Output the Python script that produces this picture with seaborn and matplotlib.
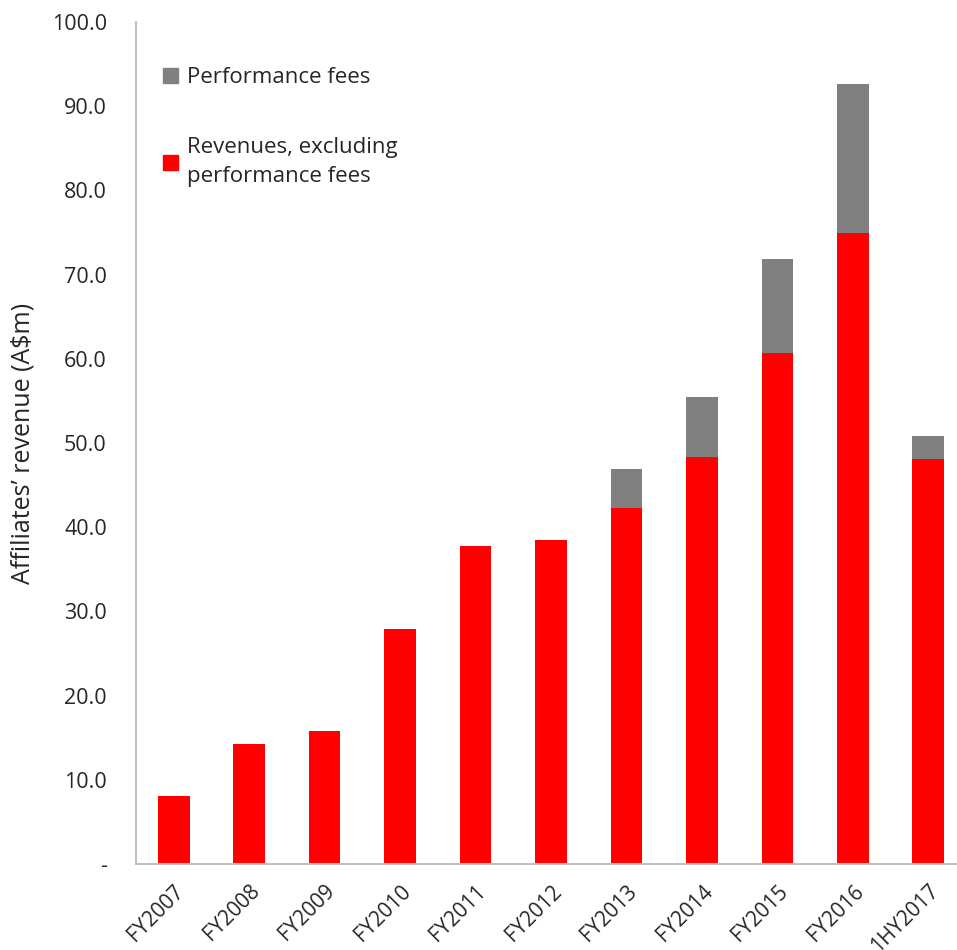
import numpy as np
import pandas as pd
import matplotlib
matplotlib.use("Agg")
import matplotlib.pyplot as plt
import seaborn as sns
from matplotlib.patches import Patch

# data (A$m)
years = ["FY2007", "FY2008", "FY2009", "FY2010", "FY2011", "FY2012",
         "FY2013", "FY2014", "FY2015", "FY2016", "1HY2017"]
revenue_ex_fees = [8.1, 14.3, 15.8, 27.9, 37.8, 38.5, 42.3, 48.3, 60.7, 74.9, 48.1]
perf_fees = [0, 0, 0, 0, 0, 0, 4.6, 7.2, 11.2, 17.7, 2.7]

df = pd.DataFrame({"year": years, "rev": revenue_ex_fees, "fees": perf_fees})

sns.set_style("white")
plt.rcParams["font.family"] = ["Open Sans", "DejaVu Sans"]

fig = plt.figure(figsize=(9.57, 9.5), dpi=100)
ax = fig.add_axes([136 / 957, 86 / 950, 1 - 136 / 957, 842 / 950])

sns.barplot(data=df, x="year", y="rev", color="#ff0000", width=0.42,
            saturation=1, linewidth=0, ax=ax)
sns.barplot(data=df, x="year", y="fees", color="#808080", width=0.42,
            saturation=1, linewidth=0, bottom=df["rev"], ax=ax)

ax.set_ylim(0, 100)
ax.set_xlim(-0.5, 10.38)
ax.set_yticks(np.arange(0, 101, 10))
ax.set_yticklabels(["-"] + [f"{v:.1f}" for v in range(10, 101, 10)], fontsize=15.5)
ax.set_xticks(range(len(years)))
ax.set_xticklabels(years, rotation=45, ha="right", rotation_mode="anchor", fontsize=15)
ax.tick_params(axis="y", length=0, pad=21)
ax.tick_params(axis="x", length=0, pad=12)
ax.set_xlabel("")
ax.set_ylabel("Affiliates’ revenue (A$m)", fontsize=18)
ax.yaxis.set_label_coords(-0.122, 0.5)

for s in ["top", "right"]:
    ax.spines[s].set_visible(False)
for s in ["left", "bottom"]:
    ax.spines[s].set_color("#c0c0c0")
    ax.spines[s].set_linewidth(1.5)

handles = [Patch(color="#808080", label="Performance fees"),
           Patch(color="#ff0000", label="Revenues, excluding\nperformance fees")]
leg = ax.legend(handles=handles, loc="upper left", bbox_to_anchor=(0.0, 0.978),
                frameon=False, fontsize=16, handlelength=0.7, handleheight=0.7,
                handletextpad=0.4, labelspacing=2.2, borderaxespad=0.8)
leg.get_texts()[1].set_linespacing(1.5)

fig.savefig("out.png", dpi=100)
